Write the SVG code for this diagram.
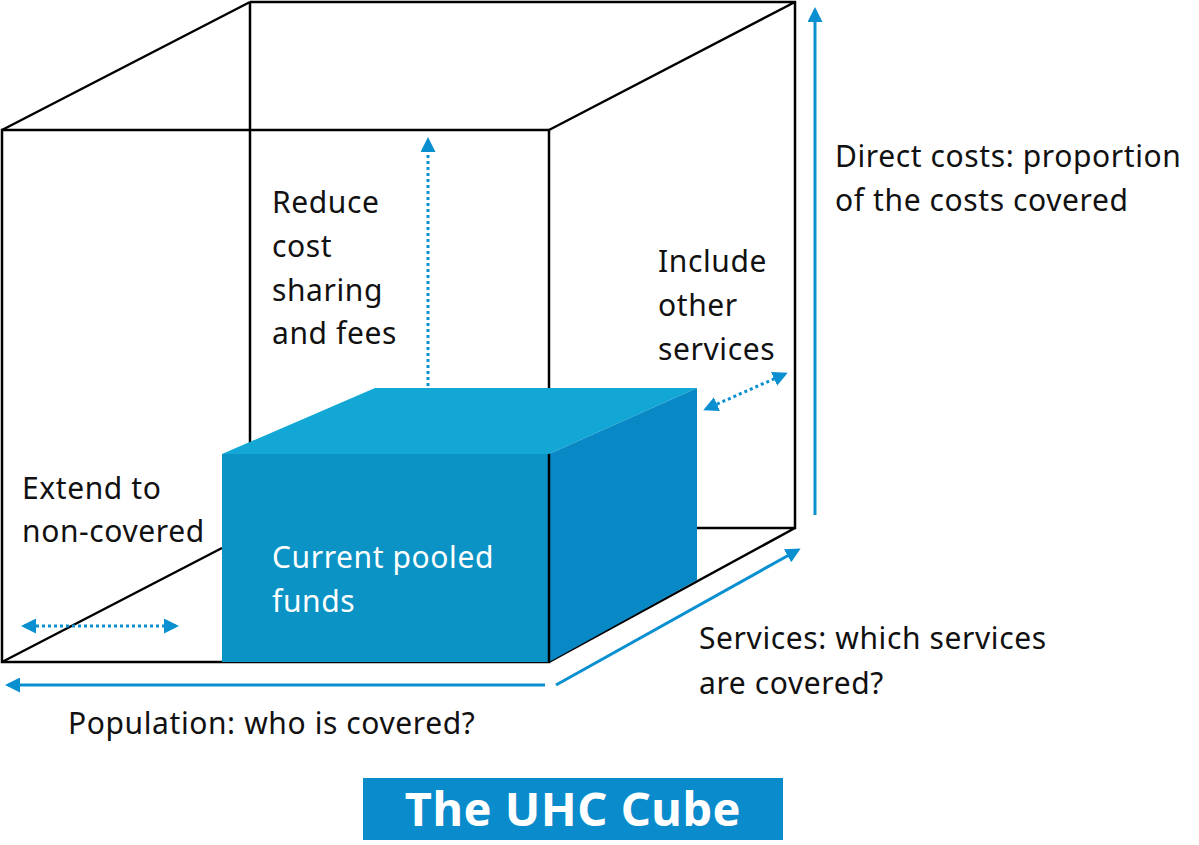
<svg xmlns="http://www.w3.org/2000/svg" width="1199" height="845" viewBox="0 0 1199 845">
<defs>
<style>
.e{fill:none;stroke:#000;stroke-width:2.5}
.a{fill:none;stroke:#0a8fd0;stroke-width:3}
.d{fill:none;stroke:#0a8fd0;stroke-width:3;stroke-dasharray:3 3}
.t{font-family:"Noto Sans","Open Sans",sans-serif;font-size:30px;letter-spacing:0.6px;fill:#111}
.w{font-family:"Noto Sans","Open Sans",sans-serif;font-size:30px;letter-spacing:0.6px;fill:#fff}
</style>
<marker id="ah" viewBox="0 0 10 10" refX="8" refY="5" markerWidth="5" markerHeight="5" orient="auto-start-reverse"><path d="M0,0L10,5L0,10z" fill="#0a8fd0"/></marker>
</defs>
<rect width="1199" height="845" fill="#fff"/>
<g id="cube">
<path class="e" d="M250,2H795V528H697M250,2V454M2,130L250,2M549,130L795,2M549,662L795,528M2,662L222,548"/>
<rect class="e" x="2" y="130" width="547" height="532"/>
</g>
<g id="pooled">
<path d="M222,454L375,388H697L549,454z" fill="#12a7d4"/>
<path d="M549,454L697,388V580L549,662z" fill="#0889c6"/>
<rect x="222" y="454" width="327" height="208" fill="#0a93c4"/>
<line class="e" x1="549" y1="454" x2="549" y2="662"/>
<text class="w" x="272" y="568">Current pooled</text>
<text class="w" x="272" y="612">funds</text>
</g>
<g id="connectors">
<line class="a" x1="815" y1="515" x2="815" y2="10" marker-end="url(#ah)"/>
<line class="a" x1="545" y1="685" x2="8" y2="685" marker-end="url(#ah)"/>
<line class="a" x1="556" y1="685" x2="798" y2="550" marker-end="url(#ah)"/>
<line class="d" x1="428" y1="386" x2="428" y2="140" marker-end="url(#ah)"/>
<line class="d" x1="24" y1="626" x2="176" y2="626" marker-start="url(#ah)" marker-end="url(#ah)"/>
<line class="d" x1="706" y1="409" x2="785" y2="374" marker-start="url(#ah)" marker-end="url(#ah)"/>
</g>
<g id="labels">
<text class="t" x="835" y="167">Direct costs: proportion</text>
<text class="t" x="835" y="211">of the costs covered</text>
<text class="t" x="272" y="213">Reduce</text>
<text class="t" x="272" y="257">cost</text>
<text class="t" x="272" y="301">sharing</text>
<text class="t" x="272" y="344">and fees</text>
<text class="t" x="658" y="272">Include</text>
<text class="t" x="658" y="316">other</text>
<text class="t" x="658" y="360">services</text>
<text class="t" x="22" y="499">Extend to</text>
<text class="t" x="22" y="542">non-covered</text>
<text class="t" x="699" y="649">Services: which services</text>
<text class="t" x="699" y="694">are covered?</text>
<text class="t" x="68" y="734">Population: who is covered?</text>
</g>
<g id="title">
<rect x="363" y="778" width="420" height="62" fill="#0a8ccc"/>
<text x="573" y="826" text-anchor="middle" font-family="'Noto Sans','Open Sans',sans-serif" font-size="47" font-weight="bold" letter-spacing="0.5" fill="#fff">The UHC Cube</text>
</g>
</svg>
